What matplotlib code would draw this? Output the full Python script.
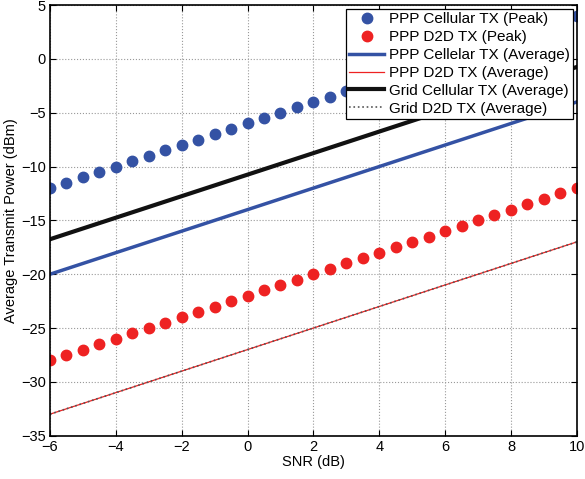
import matplotlib
matplotlib.use('Agg')
import matplotlib.pyplot as plt
import numpy as np

plt.rcParams['font.family'] = ['Liberation Sans', 'DejaVu Sans']

# SNR sample points for the peak markers
snr_pts = [-6, -5.5, -5, -4.5, -4, -3.5, -3, -2.5, -2, -1.5, -1, -0.5, 0, 0.5, 1, 1.5,
           2, 2.5, 3, 3.5, 4, 4.5, 5, 5.5, 6, 6.5, 7, 7.5, 8, 8.5, 9, 9.5, 10]
ppp_cell_peak = [-12, -11.5, -11, -10.5, -10, -9.5, -9, -8.5, -8, -7.5, -7, -6.5, -6, -5.5, -5, -4.5,
                 -4, -3.5, -3, -2.5, -2, -1.5, -1, -0.5, 0, 0.5, 1, 1.5, 2, 2.5, 3, 3.5, 4]
ppp_d2d_peak = [-28, -27.5, -27, -26.5, -26, -25.5, -25, -24.5, -24, -23.5, -23, -22.5, -22, -21.5, -21, -20.5,
                -20, -19.5, -19, -18.5, -18, -17.5, -17, -16.5, -16, -15.5, -15, -14.5, -14, -13.5, -13, -12.5, -12]

# average curves
snr_line = [-6, -4, -2, 0, 2, 4, 6, 8, 10]
ppp_cell_avg = [-20, -18, -16, -14, -12, -10, -8, -6, -4]
ppp_d2d_avg = [-33, -31, -29, -27, -25, -23, -21, -19, -17]
grid_cell_avg = [-16.75, -14.75, -12.75, -10.75, -8.75, -6.75, -4.75, -2.75, -0.75]
grid_d2d_avg = [-33, -31, -29, -27, -25, -23, -21, -19, -17]

fig = plt.figure(figsize=(5.85, 4.79), dpi=100)
ax = fig.add_axes([0.0855, 0.0904, 0.9005, 0.899])

blue = '#3452a4'
red = '#ee2222'

ax.plot(snr_pts, ppp_cell_peak, 'o', color=blue, markersize=7.5, label='PPP Cellular TX (Peak)')
ax.plot(snr_pts, ppp_d2d_peak, 'o', color=red, markersize=7.5, label='PPP D2D TX (Peak)')
ax.plot(snr_line, ppp_cell_avg, '-', color=blue, lw=2.5, label='PPP Cellelar TX (Average)')
ax.plot(snr_line, ppp_d2d_avg, '-', color=red, lw=0.9, label='PPP D2D TX (Average)')
ax.plot(snr_line, grid_cell_avg, '-', color='#111111', lw=3, label='Grid Cellular TX (Average)')
ax.plot(snr_line, grid_d2d_avg, ':', color='#555555', lw=1.2, label='Grid D2D TX (Average)')

ax.set_xlim(-6, 10)
ax.set_ylim(-35, 5)
ax.set_xticks(np.arange(-6, 11, 2))
ax.set_yticks(np.arange(-35, 6, 5))
ax.set_xticklabels(['\u22126', '\u22124', '\u22122', '0', '2', '4', '6', '8', '10'])
ax.set_yticklabels(['\u221235', '\u221230', '\u221225', '\u221220', '\u221215', '\u221210', '\u22125', '0', '5'])
ax.tick_params(direction='in', top=True, right=True, labelsize=10.5, length=4, pad=3)
ax.grid(True, linestyle=':', color='#999999', lw=0.8)
for s in ax.spines.values():
    s.set_linewidth(1.2)

ax.set_xlabel('SNR (dB)', fontsize=10.5, labelpad=1)
ax.set_ylabel('Average Transmit Power (dBm)', fontsize=10.5, labelpad=2)

leg = ax.legend(loc='upper right', fontsize=11, frameon=True, fancybox=False,
                edgecolor='black', framealpha=1, borderpad=0.2, labelspacing=0.26,
                handlelength=2.3, handletextpad=0.3, borderaxespad=0.25)
leg.get_frame().set_linewidth(0.9)

fig.savefig('out.png', dpi=100)
